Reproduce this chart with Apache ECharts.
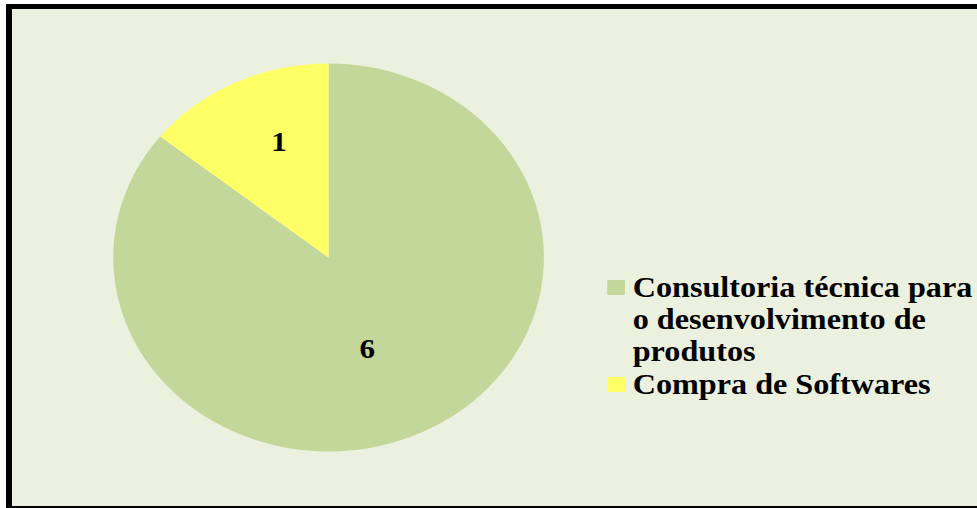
<!DOCTYPE html>
<html>
<head>
<meta charset="utf-8">
<title>Consultoria técnica e compra de softwares</title>
<script src="https://cdn.jsdelivr.net/npm/echarts@6/dist/echarts.min.js"></script>
<style>
  html, body { margin: 0; padding: 0; background: #ffffff; overflow: hidden; }
  #frame {
    position: absolute; left: 6px; top: 4px;
    width: 1000px; height: 497px;
    border-left: 6px solid #000; border-top: 5px solid #000; border-bottom: 5px solid #000;
    background: #EBF0DF;
  }
  /* the drawing is widened horizontally, pie becomes an ellipse and text is stretched */
  #chart {
    position: absolute; left: 0; top: 0;
    width: 880px; height: 508px;
    transform: scaleX(1.11); transform-origin: 0 0;
  }
</style>
</head>
<body>
<div id="frame"></div>
<div id="chart"></div>
<script>
// categories and values of the pie
const categories = [
  'Consultoria técnica para\no desenvolvimento de\nprodutos',
  'Compra de Softwares'
];
const values = [6, 1];
const colors = ['#C4D79B', '#FFFF66'];

// pie geometry (in unscaled chart pixels)
const CX = 296, CY = 257.5, R = 194;
// where each value label sits: fraction of radius and a small turn past mid-angle (deg)
const LABEL_R = [0.50, 0.64];
const LABEL_TURN = 4.7;

const total = values.reduce((a, b) => a + b, 0);
function labelPoint(i) {
  let before = 0;
  for (let k = 0; k < i; k++) before += values[k];
  const mid = -90 + 360 * (before + values[i] / 2) / total + LABEL_TURN;
  const a = mid * Math.PI / 180;
  const r = R * LABEL_R[i];
  return { x: CX + r * Math.cos(a), y: CY + r * Math.sin(a) };
}

const font = 'Liberation Serif, Times New Roman, serif';
const chart = echarts.init(document.getElementById('chart'), null, { renderer: 'svg' });
chart.setOption({
  backgroundColor: 'transparent',
  animation: false,
  legend: {
    orient: 'vertical',
    left: 547,
    top: 207.5,
    padding: 0,
    itemGap: 1,
    itemWidth: 16,
    itemHeight: 15,
    icon: 'rect',
    selectedMode: false,
    // two blank lines above keep the marker beside the first text line
    formatter: name => (name.indexOf('\n') >= 0 ? '\n\n' + name : name),
    textStyle: {
      fontFamily: font, fontWeight: 'bold', fontSize: 29, color: '#000',
      lineHeight: 32, padding: [0, 0, 0, 2]
    },
    data: categories
  },
  series: [{
    type: 'pie',
    center: [CX, CY],
    radius: R,
    startAngle: 90,
    clockwise: true,
    silent: true,
    label: {
      show: true,
      position: 'inside',
      formatter: '{c}',
      fontFamily: font, fontWeight: 'bold', fontSize: 28, color: '#000'
    },
    labelLine: { show: false },
    labelLayout: p => Object.assign(labelPoint(p.dataIndex), { align: 'center', verticalAlign: 'middle' }),
    itemStyle: { borderWidth: 0 },
    data: categories.map((name, i) => ({ name: name, value: values[i], itemStyle: { color: colors[i] } }))
  }]
});
</script>
</body>
</html>
